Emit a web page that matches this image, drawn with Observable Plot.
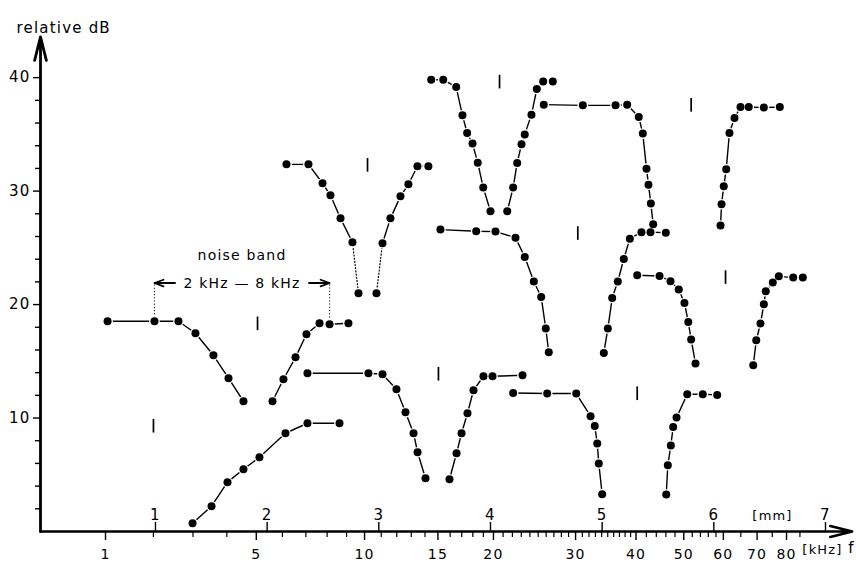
<!DOCTYPE html>
<html><head><meta charset="utf-8">
<script src="https://cdn.jsdelivr.net/npm/d3@7"></script>
<script src="https://cdn.jsdelivr.net/npm/@observablehq/plot@0.6"></script>
<style>
html,body{margin:0;padding:0;background:#fff;}
#chart svg{display:block;}
#chart svg text{letter-spacing:1.2px;}
</style></head><body><div id="chart"></div>
<script>
// x: place along the cochlea [mm]; y: relative level [dB]
const curve1  = [[1.332,0.73],[1.502,2.23],[1.645,4.35],[1.788,5.49],[1.931,6.55],[2.164,8.66],[2.361,9.54],[2.648,9.54]];
const curve2L = [[0.571,18.53],[0.991,18.53],[1.206,18.53],[1.358,17.47],[1.519,15.53],[1.654,13.51],[1.788,11.48]];
const curve2R = [[2.048,11.48],[2.146,13.42],[2.254,15.35],[2.352,17.38],[2.469,18.35],[2.559,18.26],[2.728,18.35]];
const curve3L = [[2.173,32.36],[2.370,32.36],[2.496,30.69],[2.567,29.63],[2.657,27.60],[2.764,25.49],[2.818,21.0]];
const curve3R = [[2.979,21.0],[3.033,25.40],[3.104,27.60],[3.194,29.54],[3.265,30.6],[3.346,32.19],[3.444,32.19]];
const curve4L = [[2.361,13.95],[2.907,13.95],[3.033,13.86],[3.158,12.54],[3.239,10.51],[3.311,8.66],[3.347,6.99],[3.418,4.7]];
const curve4R = [[3.633,4.61],[3.696,6.90],[3.741,8.66],[3.794,10.42],[3.848,12.45],[3.937,13.68],[4.018,13.68],[4.287,13.77]];
const curve5L = [[3.469,39.82],[3.577,39.82],[3.693,39.17],[3.749,36.68],[3.791,35.12],[3.839,34.19],[3.886,32.51],[3.935,30.31],[4.0,28.22]];
const curve5R = [[4.150,28.22],[4.203,30.31],[4.239,32.48],[4.278,34.12],[4.307,35.0],[4.367,36.74],[4.415,39.0],[4.472,39.67],[4.558,39.67]];
const curve6L = [[3.552,26.61],[3.872,26.46],[4.045,26.43],[4.224,25.90],[4.307,24.19],[4.388,22.03],[4.454,20.67],[4.495,17.89],[4.522,15.80]];
const curve6R = [[5.015,15.74],[5.051,17.89],[5.090,20.58],[5.140,22.03],[5.194,24.02],[5.248,25.81],[5.352,26.38],[5.433,26.38],[5.570,26.34]];
const curve7L = [[4.203,12.21],[4.508,12.16],[4.768,12.16],[4.896,10.16],[4.934,9.30],[4.956,7.75],[4.970,5.99],[5.000,3.29]];
const curve7R = [[5.574,3.26],[5.588,5.84],[5.615,7.58],[5.636,9.22],[5.666,10.04],[5.762,12.10],[5.901,12.10],[6.030,12.04]];
const curve8L = [[4.477,37.62],[4.827,37.56],[5.120,37.56],[5.224,37.62],[5.328,36.53],[5.364,35.07],[5.397,31.98],[5.415,30.57],[5.436,28.90],[5.457,27.07]];
const curve8R = [[6.060,26.96],[6.069,28.84],[6.089,30.42],[6.111,31.92],[6.140,35.12],[6.185,36.44],[6.239,37.41],[6.313,37.41],[6.448,37.36],[6.591,37.41]];
const curve9L = [[5.314,22.58],[5.514,22.52],[5.612,22.05],[5.686,21.32],[5.737,20.14],[5.771,18.47],[5.797,16.92],[5.836,14.80]];
const curve9R = [[6.353,14.65],[6.380,16.85],[6.418,18.33],[6.448,20.03],[6.465,21.17],[6.528,21.94],[6.582,22.49],[6.711,22.38],[6.797,22.38]];
// probe tone markers
const probes = [[0.982,9.28],[1.914,18.3],[2.899,32.27],[3.534,13.86],[4.081,39.61],[4.782,26.26],[5.314,12.14],[5.797,37.56],[6.105,22.38]];
// noise band annotation level (dB)
const noiseBandLevel = 21.9;
// axis ticks
const yMajor = [10,20,30,40];
const yMinor = [2,4,6,8,12,14,16,18,22,24,26,28,32,34,36,38];
const mmTicks = [1,2,3,4,5,6,7];
const khzMajor = [1,5,10,15,20,30,40,50,60,70,80];
const khzMinor = [2,3,4,6,7,8,9,11,12,13,14,16,17,18,19,21,22,23,24,25,26,27,28,29,31,32,33,34,35,36,37,38,39,42,44,46,48,52,54,56,58,65,75,85];

// frequency-place map (kHz <-> mm)
const GA = 3.3066, Ga = 0.2107, Gk = 1.005;
const place = f => Math.log10(f / GA + Gk) / Ga;
const freq = m => GA * (10 ** (Ga * m) - Gk);

const toRows = (arr, id) => arr.map(p => ({m: p[0], db: p[1], id}));
const allBranches = [curve1, curve2L, curve2R, curve3L, curve3R, curve4L, curve4R, curve5L, curve5R,
  curve6L, curve6R, curve7L, curve7R, curve8L, curve8R, curve9L, curve9R];
const solid = [curve1, curve2L, curve2R, curve3L.slice(0, 6), curve3R.slice(1), curve4L, curve4R, curve5L, curve5R,
  curve6L, curve6R, curve7L, curve7R, curve8L, curve8R, curve9L, curve9R];
const dotted = [curve3L.slice(5), curve3R.slice(0, 2)];
const solidRows = solid.flatMap((b, i) => toRows(b, i));
const dottedRows = dotted.flatMap((b, i) => toRows(b, i));
const points = allBranches.flatMap((b, i) => toRows(b, i));
const bandEdges = [curve2L[1], curve2R[5]];
const bandMid = (bandEdges[0][0] + bandEdges[1][0]) / 2;

const xStart = -0.0296, xEnd = 7.2777;
const chart = Plot.plot({
  width: 856, height: 564,
  marginLeft: 40, marginRight: 0, marginTop: 0, marginBottom: 33,
  x: {domain: [xStart, xEnd]},
  y: {domain: [0, 46.8]},
  style: {fontFamily: "'DejaVu Sans', sans-serif", fontSize: "14px", color: "#000", background: "#fff"},
  marks: [
    // axes lines with arrows
    Plot.arrow([0], {x1: xStart, y1: 0, x2: 7.239, y2: 0, stroke: "#000", strokeWidth: 2.6, headLength: 13, headAngle: 28}),
    Plot.arrow([0], {x1: xStart, y1: 0, x2: xStart, y2: 43.6, stroke: "#000", strokeWidth: 2.8, headLength: 13, headAngle: 28}),
    Plot.axisY(yMinor, {tickSize: 5, strokeWidth: 1.4, tickFormat: () => "", label: null}),
    Plot.axisY(yMajor, {tickSize: 7, strokeWidth: 1.4, tickPadding: 3, fontSize: 15, label: null}),
    Plot.axisX(khzMinor.map(place), {tickSize: 6, strokeWidth: 1.2, tickFormat: () => "", label: null}),
    Plot.axisX(khzMajor.map(place), {tickSize: 9, strokeWidth: 1.4, tickPadding: 9, fontSize: 14, label: null,
      tickFormat: d => String(Math.round(freq(d)))}),
    Plot.axisX(mmTicks, {tickSize: 9, dy: -9, strokeWidth: 1.4, tickFormat: () => "", label: null}),
    Plot.text(mmTicks, {x: d => d, frameAnchor: "bottom", dy: -12, text: d => String(d), fontSize: 15}),
    Plot.text(["[mm]"], {frameAnchor: "bottom-right", textAnchor: "middle", dx: -84, dy: -12, fontSize: 13}),
    Plot.text(["[kHz]"], {frameAnchor: "bottom-right", textAnchor: "middle", dx: -34, dy: 22, fontSize: 13}),
    Plot.text(["f"], {frameAnchor: "bottom-right", textAnchor: "middle", dx: -5, dy: 21, fontSize: 15}),
    Plot.text(["relative dB"], {frameAnchor: "top-left", dx: -24, dy: 22, textAnchor: "start", fontSize: 15}),
    // noise band annotation
    Plot.ruleX(bandEdges, {x: d => d[0], y1: d => d[1], y2: noiseBandLevel, stroke: "#000", strokeWidth: 1.1, strokeDasharray: "1,2.2"}),
    Plot.arrow(bandEdges, {x1: bandMid, y1: noiseBandLevel, x2: d => d[0], y2: noiseBandLevel, insetStart: 67, stroke: "#000", strokeWidth: 1.8, headLength: 8, headAngle: 40}),
    Plot.text(["2 kHz \u2014 8 kHz"], {x: bandMid, y: noiseBandLevel, fontSize: 14}),
    Plot.text(["noise band"], {x: bandMid, y: noiseBandLevel, dy: -28, fontSize: 14}),
    // curves
    Plot.line(solidRows, {x: "m", y: "db", z: "id", stroke: "#000", strokeWidth: 1.4}),
    Plot.line(dottedRows, {x: "m", y: "db", z: "id", stroke: "#000", strokeWidth: 1.2, strokeDasharray: "1,2.2"}),
    Plot.dot(points, {x: "m", y: "db", r: 5.3, fill: "#fff"}),
    Plot.dot(points, {x: "m", y: "db", r: 4, fill: "#000"}),
    Plot.ruleX(probes, {x: d => d[0], y1: d => d[1] - 0.6, y2: d => d[1] + 0.6, stroke: "#000", strokeWidth: 1.7})
  ]
});
document.getElementById("chart").appendChild(chart);
</script>
</body></html>
